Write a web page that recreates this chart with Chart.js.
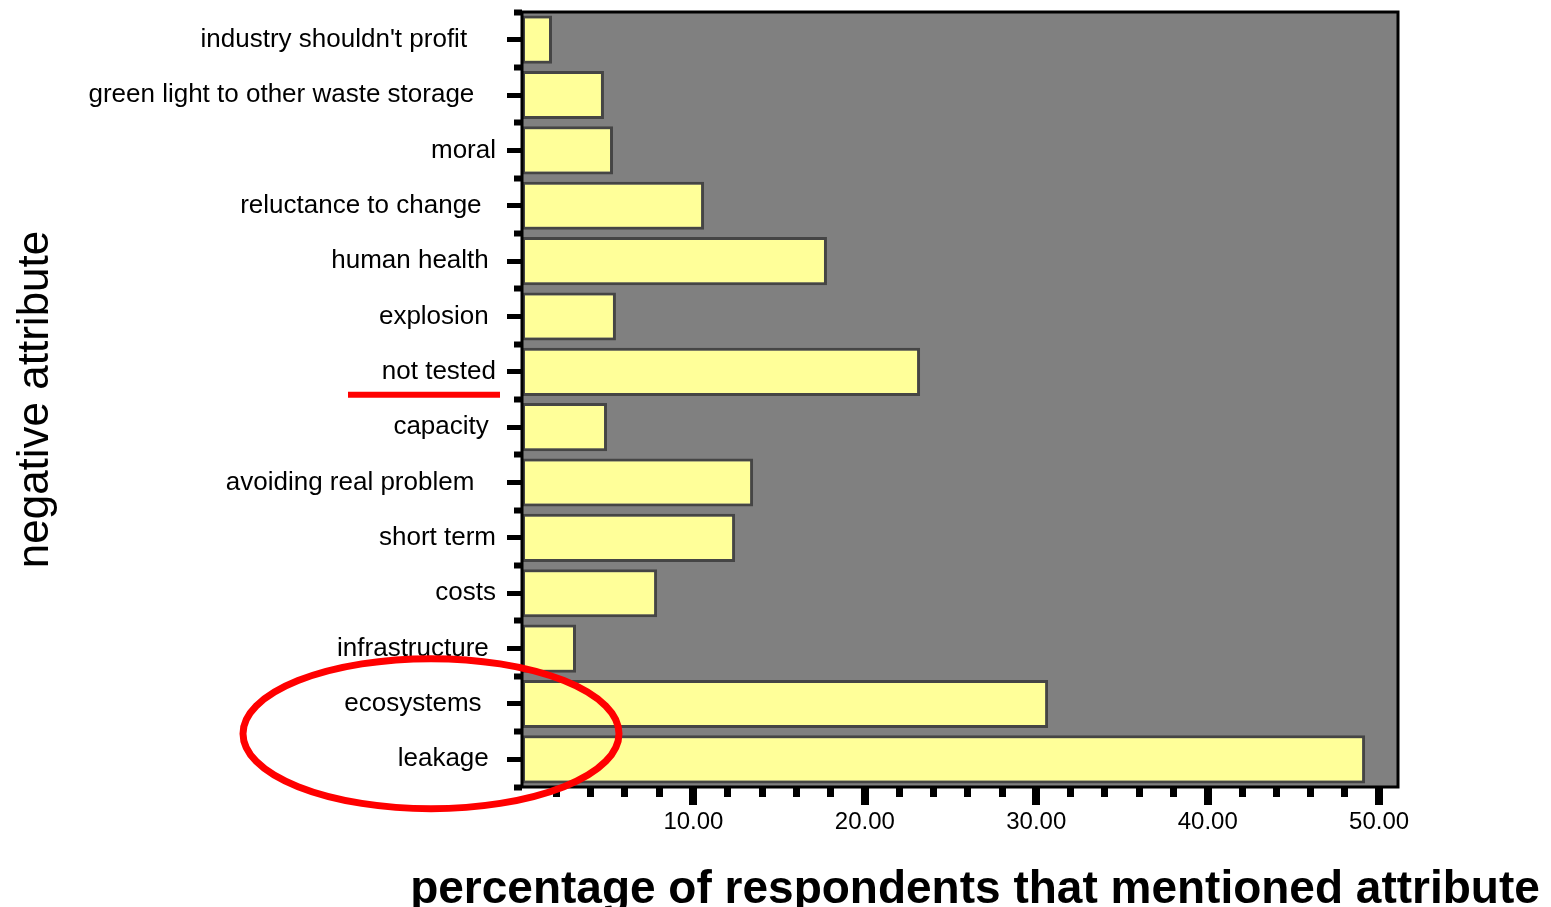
<!DOCTYPE html>
<html>
<head>
<meta charset="utf-8">
<script src="https://cdn.jsdelivr.net/npm/chart.js@4.4.0/dist/chart.umd.min.js"></script>
<style>
html, body { margin: 0; padding: 0; background: #ffffff; }
#wrap { width: 1551px; height: 907px; }
</style>
</head>
<body>
<div id="wrap"><canvas id="myChart" width="1551" height="907"></canvas></div>
<script>
// categories (trailing blanks kept as in the original SPSS labels)
const attributes = [
    "industry shouldn't profit    ",
    "green light to other waste storage   ",
    "moral",
    "reluctance to change  ",
    "human health ",
    "explosion ",
    "not tested",
    "capacity ",
    "avoiding real problem   ",
    "short term",
    "costs",
    "infrastructure ",
    "ecosystems  ",
    "leakage "
];

// percentage of respondents
const percentages = [1.75, 4.78, 5.31, 10.62, 17.79, 5.48, 23.22, 4.96, 13.48, 12.43, 7.88, 3.15, 30.69, 49.18];

const xMin = 0;
const xMax = 51.1;
const xMajorTicks = [10, 20, 30, 40, 50];
const xMinorStep = 2;

const xTitle = 'percentage of respondents that mentioned attribute';
const yTitle = 'negative attribute';

const underlined = "not tested";
const circled = ["ecosystems", "leakage"];

const fontFamily = "'Liberation Sans', Arial, sans-serif";
Chart.defaults.font.family = fontFamily;
Chart.defaults.color = '#000000';

function findLabel(name) {
    return attributes.findIndex(a => a.trim() === name);
}

const framePlugin = {
    id: 'frame',
    beforeDatasetsDraw(chart) {
        const {ctx, chartArea: a} = chart;
        ctx.save();
        ctx.fillStyle = '#808080';
        ctx.fillRect(a.left, a.top, a.right - a.left, a.bottom - a.top);
        ctx.restore();
    },
    afterDatasetsDraw(chart) {
        const {ctx, chartArea: a} = chart;
        const xs = chart.scales.x;
        const ys = chart.scales.y;
        ctx.save();
        ctx.strokeStyle = '#000000';
        ctx.lineWidth = 3;
        ctx.strokeRect(a.left, a.top, a.right - a.left, a.bottom - a.top);

        ctx.fillStyle = '#000000';
        // x axis tick marks, long ones where the labels are
        for (let v = xMinorStep; v <= xMajorTicks[xMajorTicks.length - 1]; v += xMinorStep) {
            const px = xs.getPixelForValue(v);
            if (xMajorTicks.includes(v)) {
                ctx.fillRect(Math.round(px - 4), a.bottom + 1, 8, 17);
            } else {
                ctx.fillRect(Math.round(px - 3.5), a.bottom + 1, 7, 9);
            }
        }
        // y axis ticks at each category
        attributes.forEach((lab, i) => {
            const py = ys.getPixelForValue(i);
            ctx.fillRect(a.left - 15, Math.round(py - 2.5), 14, 5);
        });

        // x axis title, wider than the plot so drawn here (not squeezed)
        ctx.font = 'bold 46px ' + fontFamily;
        ctx.textAlign = 'center';
        ctx.textBaseline = 'alphabetic';
        ctx.fillText(xTitle, (a.left + a.right) / 2 + 15, chart.height - 4);
        ctx.restore();
    },
    afterDraw(chart) {
        const {ctx, chartArea: a} = chart;
        const ys = chart.scales.y;
        ctx.save();
        ctx.strokeStyle = '#ff0000';

        // red underline under "not tested"
        const ny = ys.getPixelForValue(findLabel(underlined)) + 23;
        ctx.lineWidth = 6;
        ctx.beginPath();
        ctx.moveTo(a.left - 174, ny);
        ctx.lineTo(a.left - 22, ny);
        ctx.stroke();

        // red ellipse round ecosystems + leakage
        const y1 = ys.getPixelForValue(findLabel(circled[0]));
        const y2 = ys.getPixelForValue(findLabel(circled[1]));
        ctx.lineWidth = 7;
        ctx.beginPath();
        ctx.ellipse(a.left - 91, (y1 + y2) / 2 + 2, 188, 75, 0, 0, Math.PI * 2);
        ctx.stroke();
        ctx.restore();
    }
};

const ctx = document.getElementById('myChart').getContext('2d');
const chart = new Chart(ctx, {
    type: 'bar',
    data: {
        labels: attributes,
        datasets: [{
            label: 'percentage',
            data: percentages,
            backgroundColor: '#ffff99',
            borderColor: '#454545',
            borderWidth: 3,
            borderSkipped: false,
            barPercentage: 0.87,
            categoryPercentage: 1.0
        }]
    },
    options: {
        indexAxis: 'y',
        responsive: false,
        animation: false,
        events: [],
        layout: {
            padding: { top: 12, right: 153, bottom: 0, left: 0 }
        },
        plugins: {
            legend: { display: false },
            tooltip: { enabled: false }
        },
        scales: {
            x: {
                type: 'linear',
                min: xMin,
                max: xMax,
                afterBuildTicks: (scale) => {
                    scale.ticks = xMajorTicks.map(v => ({ value: v }));
                },
                afterFit: (scale) => {
                    scale.height = 120;
                    scale.paddingLeft = 0;
                    scale.paddingRight = 0;
                },
                grid: {
                    drawOnChartArea: false,
                    drawTicks: true,
                    tickLength: 16,
                    tickColor: 'rgba(0,0,0,0)'
                },
                border: { display: false },
                ticks: {
                    autoSkip: false,
                    maxRotation: 0,
                    padding: 5,
                    font: { size: 24 },
                    color: '#000000',
                    callback: (v) => Number(v).toFixed(2)
                },
                title: { display: false }
            },
            y: {
                type: 'category',
                afterFit: (scale) => {
                    scale.width = 522;
                    scale.paddingTop = 0;
                    scale.paddingBottom = 0;
                },
                grid: {
                    offset: true,
                    drawOnChartArea: false,
                    drawTicks: true,
                    tickLength: 8,
                    tickWidth: 6,
                    tickColor: '#000000'
                },
                border: { display: false },
                ticks: {
                    autoSkip: false,
                    padding: 18,
                    font: { size: 26 },
                    color: '#000000'
                },
                title: {
                    display: true,
                    text: yTitle,
                    font: { size: 44 },
                    color: '#000000',
                    padding: { top: 9, bottom: 0 }
                }
            }
        }
    },
    plugins: [framePlugin]
});
</script>
</body>
</html>
